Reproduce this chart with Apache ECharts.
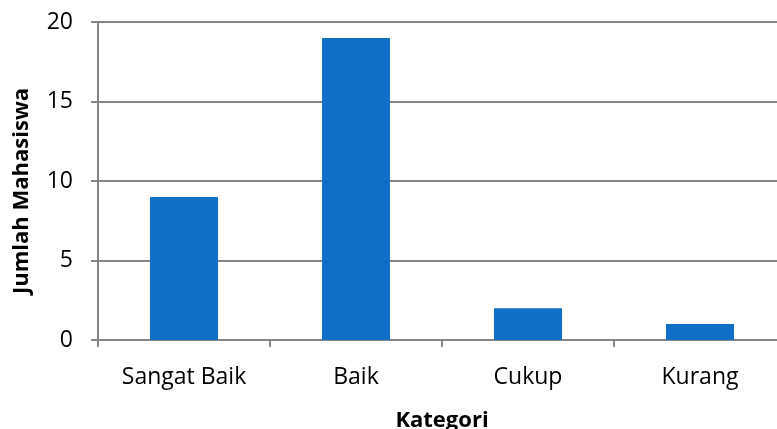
<!DOCTYPE html>
<html>
<head>
<meta charset="utf-8">
<style>
  html, body { margin: 0; padding: 0; background: #fff; }
  #chart { width: 777px; height: 429px; }
</style>
<script src="https://cdn.jsdelivr.net/npm/echarts@6/dist/echarts.min.js"></script>
</head>
<body>
<div id="chart"></div>
<script>
// Jumlah mahasiswa per kategori
const categories = ['Sangat Baik', 'Baik', 'Cukup', 'Kurang'];
const jumlahMahasiswa = [9, 19, 2, 1];
const yTicks = [0, 5, 10, 15, 20];

const FONT = '"Open Sans", "Noto Sans", sans-serif';
const GRAY = '#868686';

const chart = echarts.init(document.getElementById('chart'), null, { renderer: 'canvas' });
chart.setOption({
  animation: false,
  backgroundColor: '#ffffff',
  grid: {
    left: 98, top: 22, width: 688, height: 318,
    containLabel: false,
    outerBoundsMode: 'none'
  },
  xAxis: {
    type: 'category',
    data: categories,
    name: 'Kategori',
    nameLocation: 'middle',
    nameGap: 70,
    nameTextStyle: { fontFamily: FONT, fontSize: 22, fontWeight: 'bold', color: '#000' },
    axisLine: { show: true, lineStyle: { color: GRAY, width: 2 } },
    axisTick: { show: true, length: 7, alignWithLabel: false, lineStyle: { color: GRAY, width: 2 } },
    axisLabel: { fontFamily: FONT, fontSize: 23, color: '#000', margin: 26 }
  },
  yAxis: {
    type: 'value',
    min: yTicks[0],
    max: yTicks[yTicks.length - 1],
    interval: 5,
    axisLine: { show: true, lineStyle: { color: GRAY, width: 2 } },
    axisTick: { show: true, length: 7, lineStyle: { color: GRAY, width: 2 } },
    splitLine: { show: true, lineStyle: { color: GRAY, width: 2 } },
    axisLabel: { fontFamily: FONT, fontSize: 23, color: '#000', margin: 25 }
  },
  graphic: [{
    type: 'text',
    x: 22,
    y: 191,
    rotation: Math.PI / 2,
    style: {
      text: 'Jumlah Mahasiswa',
      fontFamily: FONT,
      fontSize: 22,
      fontWeight: 'bold',
      fill: '#000',
      align: 'center',
      verticalAlign: 'middle'
    }
  }],
  series: [{
    type: 'bar',
    data: jumlahMahasiswa,
    barWidth: 68,
    itemStyle: { color: '#106FC6' }
  }]
});
</script>
</body>
</html>
